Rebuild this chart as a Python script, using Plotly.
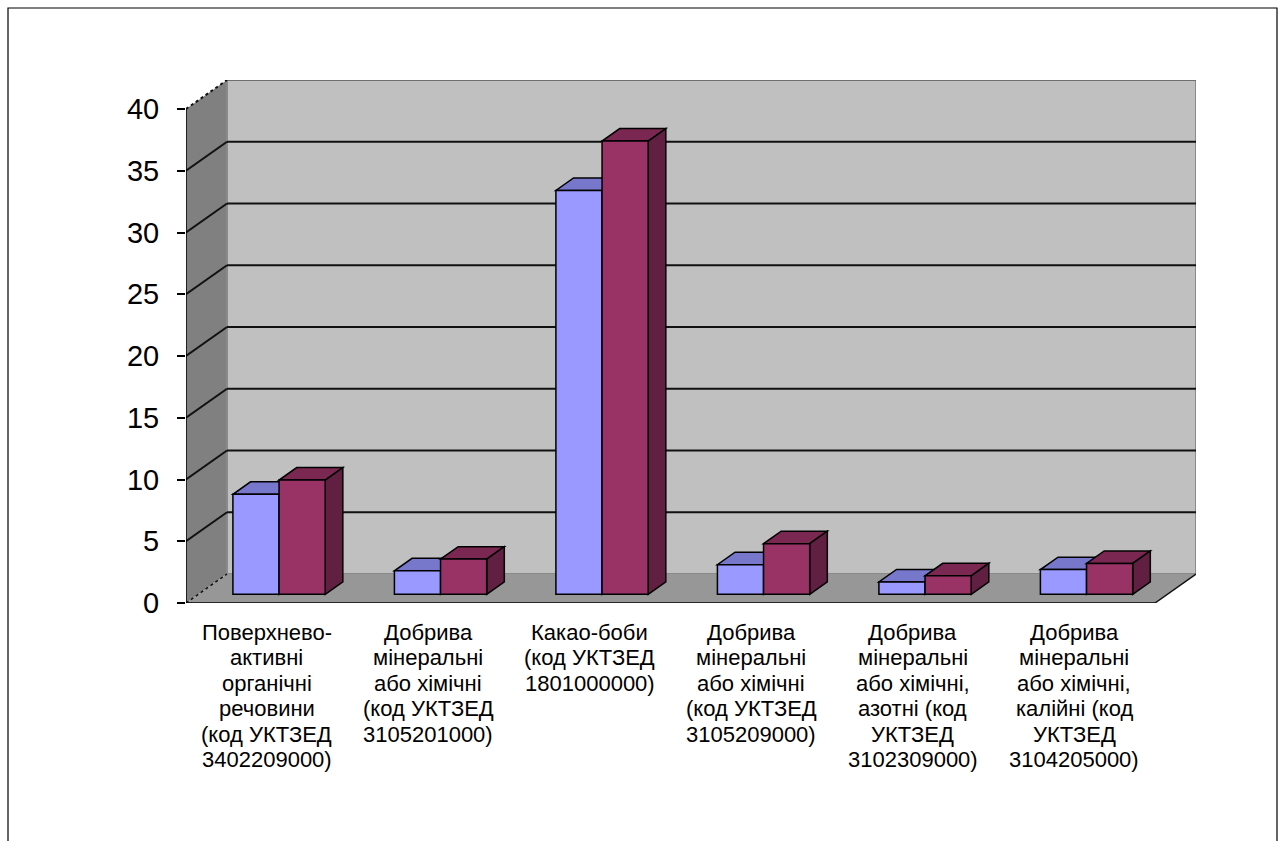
import plotly.graph_objects as go

# ---------------- data ----------------
categories = [
    "Поверхнево-\nактивні\nорганічні\nречовини\n(код УКТЗЕД\n3402209000)",
    "Добрива\nмінеральні\nабо хімічні\n(код УКТЗЕД\n3105201000)",
    "Какао-боби\n(код УКТЗЕД\n1801000000)",
    "Добрива\nмінеральні\nабо хімічні\n(код УКТЗЕД\n3105209000)",
    "Добрива\nмінеральні\nабо хімічні,\nазотні (код\nУКТЗЕД\n3102309000)",
    "Добрива\nмінеральні\nабо хімічні,\nкалійні (код\nУКТЗЕД\n3104205000)",
]
series_1 = [8.1, 1.9, 32.7, 2.4, 1.0, 2.0]
series_2 = [9.25, 2.85, 36.7, 4.1, 1.5, 2.5]
y_ticks = [0, 5, 10, 15, 20, 25, 30, 35, 40]

# ---------------- style / geometry ----------------
W = 1 / 3.5            # bar width (gap width 150%)
DX = 0.2539            # depth offset in category units
DY = 2.348             # depth offset in value units
F1, F2 = 0.30, 0.73    # bar front/back depth fractions
YMAX = 40
n = len(categories)
xs = list(range(n))

front_cols = ["#9999FF", "#993366"]
top_cols = ["#7777CC", "#7A2851"]
side_cols = ["#4D4D99", "#611F42"]

fig = go.Figure()
offsets = [-W + F1 * DX, F1 * DX]
for vals, off, col in zip([series_1, series_2], offsets, front_cols):
    fig.add_trace(go.Bar(
        x=xs, y=vals, base=[F1 * DY] * n, width=W, offset=off,
        marker=dict(color=col, line=dict(color="black", width=1.5)),
        showlegend=False, hoverinfo="skip"))

shapes = []
# walls and floor
shapes.append(dict(type="path", layer="below", xref="x", yref="y",
                   path=f"M {-0.5},0 L {-0.5+DX},{DY} L {-0.5+DX},{YMAX+DY} L {-0.5},{YMAX} Z",
                   fillcolor="#808080", line=dict(width=0)))
shapes.append(dict(type="rect", layer="below", xref="x", yref="y",
                   x0=-0.5 + DX, y0=DY, x1=n - 0.5 + DX, y1=YMAX + DY,
                   fillcolor="#C0C0C0", line=dict(color="#8A8A8A", width=2)))
shapes.append(dict(type="path", layer="below", xref="x", yref="y",
                   path=f"M {-0.5},0 L {n-0.5},0 L {n-0.5+DX},{DY} L {-0.5+DX},{DY} Z",
                   fillcolor="#979797", line=dict(width=0)))
# gridlines
for v in y_ticks[1:]:
    c = "#111111" if v < YMAX else "#6E6E6E"
    shapes.append(dict(type="line", layer="below", xref="x", yref="y",
                       x0=-0.5 + DX, y0=v + DY, x1=n - 0.5 + DX, y1=v + DY,
                       line=dict(color=c, width=2)))
    shapes.append(dict(type="line", layer="below", xref="x", yref="y",
                       x0=-0.5, y0=v, x1=-0.5 + DX, y1=v + DY,
                       line=dict(color="#111111", width=2,
                                 dash="dot" if v == YMAX else "solid")))
# floor edges
shapes.append(dict(type="line", layer="below", xref="x", yref="y",
                   x0=-0.5, y0=0, x1=-0.5 + DX, y1=DY,
                   line=dict(color="#111111", width=1.5, dash="dot")))
shapes.append(dict(type="line", layer="below", xref="x", yref="y",
                   x0=n - 0.5, y0=0, x1=n - 0.5 + DX, y1=DY,
                   line=dict(color="#111111", width=1.5)))

# 3D faces of bars
ddx = (F2 - F1) * DX
ddy = (F2 - F1) * DY
for i in xs:
    for s, (vals, off) in enumerate(zip([series_1, series_2], offsets)):
        x0 = i + off
        x1 = x0 + W
        yb = F1 * DY
        yt = vals[i] + F1 * DY
        shapes.append(dict(type="path", layer="below", xref="x", yref="y",
                           path=f"M {x0},{yt} L {x1},{yt} L {x1+ddx},{yt+ddy} L {x0+ddx},{yt+ddy} Z",
                           fillcolor=top_cols[s], line=dict(color="black", width=1.5)))
        shapes.append(dict(type="path", layer="below", xref="x", yref="y",
                           path=f"M {x1},{yb} L {x1+ddx},{yb+ddy} L {x1+ddx},{yt+ddy} L {x1},{yt} Z",
                           fillcolor=side_cols[s], line=dict(color="black", width=1.5)))

# axis lines and category ticks (above)
shapes.append(dict(type="line", xref="x", yref="y", x0=-0.5, y0=0, x1=n - 0.5, y1=0,
                   line=dict(color="black", width=1.5)))
shapes.append(dict(type="line", xref="x", yref="y", x0=-0.5, y0=0, x1=-0.5, y1=YMAX,
                   line=dict(color="black", width=1.5)))
for b in range(n + 1):
    shapes.append(dict(type="line", xref="x", yref="y", ysizemode="pixel", yanchor=0,
                       x0=b - 0.5, x1=b - 0.5, y0=0, y1=-7,
                       line=dict(color="black", width=1.5)))

# outer frame
L, R, T, B = 186, 87, 80, 238
PW, PH = 1283 - L - R, 841 - T - B
shapes.append(dict(type="rect", xref="paper", yref="paper",
                   x0=(8 - L) / PW, x1=(1277 - L) / PW,
                   y0=((841 - B) - 870) / PH, y1=((841 - B) - 8) / PH,
                   line=dict(color="black", width=1.2), fillcolor="rgba(0,0,0,0)"))

annotations = []
LINE_H = 25.4
for i, cat in enumerate(categories):
    for k, line in enumerate(cat.split("\n")):
        annotations.append(dict(x=i, y=0, xref="x", yref="y", text=line,
                                showarrow=False, xanchor="center", yanchor="top",
                                yshift=-(15 + k * LINE_H),
                                font=dict(family="Liberation Sans, Arial", size=22, color="black")))

fig.update_layout(
    width=1283, height=841,
    margin=dict(l=L, r=R, t=T, b=B),
    paper_bgcolor="white", plot_bgcolor="white",
    barmode="overlay",
    shapes=shapes, annotations=annotations,
    xaxis=dict(range=[-0.5, n - 0.5 + DX], showgrid=False, zeroline=False,
               showline=False, showticklabels=False, ticks="", fixedrange=True),
    yaxis=dict(range=[0, YMAX + DY], tickvals=y_ticks, showgrid=False, zeroline=False,
               showline=False, ticks="outside", ticklen=8, tickwidth=1.5, tickcolor="black",
               ticklabelstandoff=12,
               tickfont=dict(family="Liberation Sans, Arial", size=29, color="black")),
    showlegend=False,
)

fig.write_html("out.html")
